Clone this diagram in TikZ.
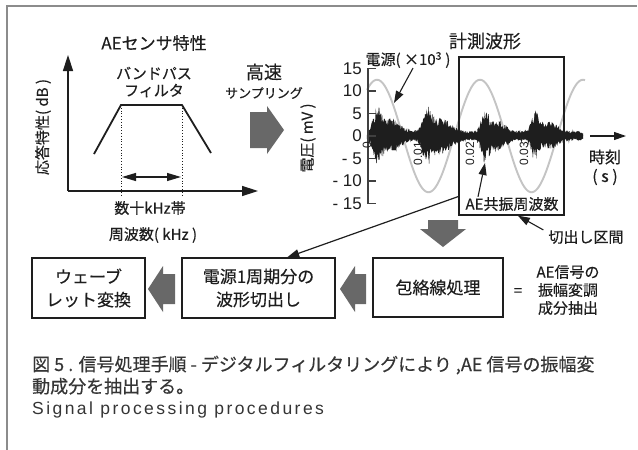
\documentclass[tikz,border=0pt]{standalone}
\usepackage{fontspec}
\setmainfont{Noto Sans CJK JP}[FakeBold=0.3]
\newfontfamily\lat{Liberation Sans}
\usetikzlibrary{arrows.meta,calc}
\definecolor{ink}{HTML}{1E1E1E}
\definecolor{framegray}{HTML}{8C8C8C}
\definecolor{blockgray}{HTML}{686868}
\definecolor{sinegray}{HTML}{C4C4C4}
\newcommand{\fs}[1]{\fontsize{#1}{#1}\selectfont}
\tikzset{
  lbl/.style={inner sep=0pt, text=ink},
  procbox/.style={draw=ink, line width=1.3pt, inner sep=0pt, text=ink, align=center, font=\fs{17}, execute at begin node=\setlength{\baselineskip}{23pt}},
  arr/.style={draw=ink, line width=1.2pt, -{Triangle[length=12pt,width=8pt]}},
  axarr/.style={draw=ink, line width=1.5pt, -{Triangle[length=16pt,width=10pt]}},
  blockarrow/.style={fill=blockgray, draw=none},
  tick/.style={lbl, anchor=east, font=\lat\fs{17}},
  ttick/.style={lbl, anchor=east, rotate=90, font=\lat\fs{12}},
}
\begin{document}
\begin{tikzpicture}[x=1pt,y=-1pt,
  declare function={
    gg(\x,\c,\w)=exp(-min(((\x-\c)/\w)^2,20));
    env(\x)=1.1+4.6*gg(\x,377,5)+3.0*gg(\x,390,13)+4.4*gg(\x,427,6)+3.0*gg(\x,441,13)+4.4*gg(\x,485,5)+2.4*gg(\x,498,11)+4.2*gg(\x,535,5)+2.4*gg(\x,549,11);
  }]
\useasboundingbox (0,0) rectangle (638,450);
\fill[white] (0,0) rectangle (638,450);
% frame
\draw[framegray, line width=2pt] (7,450) -- (7,6) -- (637,6);

% ---------- left panel: sensor characteristic
\node[lbl, font=\fs{17}] (senstitle) at (154,43) {AEセンサ特性};
\coordinate (origin) at (68,191);
\coordinate (ytip) at (68,55);
\coordinate (xtip) at (258,191);
\draw[axarr] (origin) -- (ytip);
\draw[axarr] (origin) -- (xtip);
\coordinate (f1) at (94,154);
\coordinate (f2) at (121,105);
\coordinate (f3) at (182,105);
\coordinate (f4) at (211,153);
\draw[ink, line width=1.8pt] (f1) -- (f2) -- (f3) -- (f4);
\coordinate (d2) at (121,195);
\coordinate (d3) at (182,195);
\draw[ink, dotted, line width=0.8pt] (f2) -- (d2);
\draw[ink, dotted, line width=0.8pt] (f3) -- (d3);
\coordinate (b1) at (122,177);
\coordinate (b2) at (181,177);
\draw[ink, line width=1.2pt, {Triangle[length=14pt,width=8pt]}-{Triangle[length=14pt,width=8pt]}] (b1) -- (b2);
\node[lbl, font=\fs{15}, align=center] (bpf) at (154,82) {バンドパス\\[2pt]フィルタ};
\node[lbl, font=\fs{15}] (band) at (150,208) {数十kHz帯};
\node[lbl, font=\fs{15}] (freq) at (153,235) {周波数( kHz )};
\node[lbl, font=\fs{15}, rotate=90] (resp) at (43,127) {応答特性( dB )};

% ---------- sampling arrow
\node[lbl, font=\fs{18}] (fast) at (264,72) {高速};
\node[lbl, font=\fs{13}] (samp) at (264,93) {サンプリング};
\fill[blockarrow] (250,112) -- (267,112) -- (267,106) -- (284,130) -- (267,154) -- (267,148) -- (250,148) -- cycle;

% ---------- right panel: measured waveform
\node[lbl, font=\fs{18}] (meas) at (485,41) {計測波形};
\draw[sinegray, line width=1.9pt] plot[domain=367:585, samples=160, variable=\t, smooth] (\t, {136-56.25*cos(3.4951*(\t-377))});
\pgfmathsetseed{20240}
\fill[ink] plot[domain=367:583, samples=320, variable=\t] (\t, {136-4.5*env(\t)*(0.5+0.5*rnd)})
  -- plot[domain=583:367, samples=320, variable=\t] (\t, {136+4.5*env(\t)*(0.45+0.45*rnd)}) -- cycle;
\draw[ink, line width=0.5pt] plot[domain=367:583, samples=600, variable=\t] (\t, {136-4.5*env(\t)*rand});
\draw[ink, line width=1.5pt] (367,136) -- (583,136);
% y axis
\draw[ink!85, line width=1.6pt] (376,68.5) -- (368,68.5) -- (368,203.5) -- (376,203.5);
\foreach \yy in {91,113.5,136,158.5,181} \draw[ink!85, line width=1.6pt] (368,\yy) -- (376,\yy);
\node[tick] (t15) at (362,68.5) {15};
\node[tick] (t10) at (362,91) {10};
\node[tick] (t5) at (362,113.5) {5};
\node[tick] (t0) at (362,136) {0};
\node[tick] (tm5) at (362,158.5) {- 5};
\node[tick] (tm10) at (362,181) {- 10};
\node[tick] (tm15) at (362,203.5) {- 15};
\node[lbl, font=\fs{15}, rotate=90] (volt) at (308,138) {電圧( mV )};
% time ticks
\node[ttick] (x0) at (367,142) {0};
\node[ttick] (x1) at (418,142) {0.01};
\node[ttick] (x2) at (470,142) {0.02};
\node[ttick] (x3) at (524,142) {0.03};
% time axis
\coordinate (tax0) at (590,136);
\coordinate (tax1) at (626,136);
\draw[arr] (tax0) -- (tax1);
\node[lbl, font=\fs{16}] (time) at (605,157) {時刻};
\node[lbl, font=\fs{16}] (sec) at (605,177) {( s )};
% supply label
\node[lbl, font=\fs{15}] (srclbl) at (408,60) {電源( ×10\textsuperscript{3} )};
\coordinate (sinept) at (394,103);
\draw[arr, line width=1.1pt] ([xshift=5pt]srclbl.south) -- (sinept);
% cut box
\node[draw=ink, line width=1.3pt, minimum width=105pt, minimum height=158pt, inner sep=0pt] (cutbox) at (511.5,136) {};
\node[lbl, font=\fs{15}] (aelbl) at (512,204) {AE共振周波数};
\coordinate (aepeak) at (485,163);
\draw[arr, line width=1.1pt] ([xshift=-34pt]aelbl.north) -- (aepeak);
\node[lbl, font=\fs{15}] (cutlbl) at (586,237) {切出し区間};
\draw[arr, line width=1.1pt] ([xshift=-5pt]cutlbl.north west) -- ($(cutbox.south west)!0.56!(cutbox.south east)$);

% ---------- bottom process chain
\node[procbox, minimum width=113pt, minimum height=60pt] (wavelet) at (88.5,288) {ウェーブ\\レット変換};
\node[procbox, minimum width=153pt, minimum height=60pt] (cutout) at (258.5,288) {電源1周期分の\\波形切出し};
\node[procbox, minimum width=130pt, minimum height=59pt] (envp) at (438,287.5) {包絡線処理};
\node[lbl, font=\fs{15}] (eq) at (518,292) {=};
\node[lbl, font=\fs{15}, align=center] (amlbl) at (568,290) {AE信号の\\[3pt]振幅変調\\[3pt]成分抽出};
\draw[arr] ($(cutbox.south west)!0.12!(cutbox.north west)$) -- ($(cutout.north west)!0.686!(cutout.north east)$);
% block arrows
\fill[blockarrow] (428,220) -- (458,220) -- (458,229) -- (466,229) -- (443,247) -- (420,229) -- (428,229) -- cycle;
\fill[blockarrow] (366,274) -- (355,274) -- (355,266) -- (340,289) -- (355,312) -- (355,304) -- (366,304) -- cycle;
\fill[blockarrow] (175,274) -- (163,274) -- (163,266) -- (148,289) -- (163,312) -- (163,304) -- (175,304) -- cycle;

% ---------- caption
\node[lbl, anchor=base west, font=\fs{18}, text=ink!90] (cap1) at (32,371) {図 5 . 信号処理手順 - デジタルフィルタリングにより ,AE 信号の振幅変};
\node[lbl, anchor=base west, font=\fs{18}, text=ink!90] (cap2) at (32,393) {動成分を抽出する。};
\node[lbl, anchor=base west, font=\lat\fs{17.5}\addfontfeatures{LetterSpace=14}, text=ink!90] (cap3) at (32,414) {Signal processing procedures};
\end{tikzpicture}
\end{document}
